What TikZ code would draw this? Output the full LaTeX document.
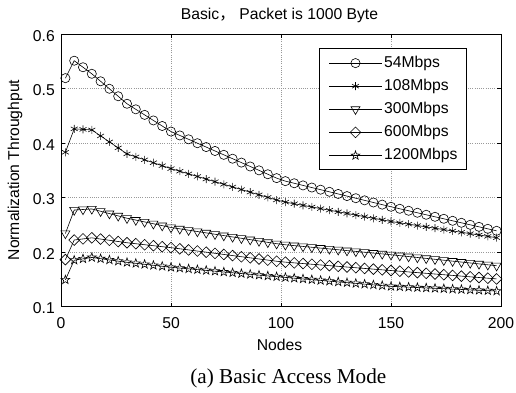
\documentclass[tikz,border=0pt]{standalone}
\usepackage{fontspec}
\setmainfont{Liberation Sans}
\newfontfamily\capfont{Liberation Serif}
\newfontfamily\cjk{Noto Sans CJK SC}
\usepackage{tikz}
\usetikzlibrary{plotmarks}

\pgfdeclareplotmark{pentagram}{%
  \pgfpathmoveto{\pgfpointpolar{90}{\pgfplotmarksize}}%
  \pgfpathlineto{\pgfpointpolar{126}{0.4\pgfplotmarksize}}%
  \pgfpathlineto{\pgfpointpolar{162}{\pgfplotmarksize}}%
  \pgfpathlineto{\pgfpointpolar{198}{0.4\pgfplotmarksize}}%
  \pgfpathlineto{\pgfpointpolar{234}{\pgfplotmarksize}}%
  \pgfpathlineto{\pgfpointpolar{270}{0.4\pgfplotmarksize}}%
  \pgfpathlineto{\pgfpointpolar{306}{\pgfplotmarksize}}%
  \pgfpathlineto{\pgfpointpolar{342}{0.4\pgfplotmarksize}}%
  \pgfpathlineto{\pgfpointpolar{18}{\pgfplotmarksize}}%
  \pgfpathlineto{\pgfpointpolar{54}{0.4\pgfplotmarksize}}%
  \pgfpathclose
  \pgfusepathqstroke}

% piecewise linear throughput, knots at 2,6,14,30,50,100,150,200 nodes
\newcommand\knotcurve[8]{(\x<6) ? seg(\x,2,6,#1,#2) : ((\x<14) ? seg(\x,6,14,#2,#3) : ((\x<30) ? seg(\x,14,30,#3,#4) : ((\x<50) ? seg(\x,30,50,#4,#5) : ((\x<100) ? seg(\x,50,100,#5,#6) : ((\x<150) ? seg(\x,100,150,#6,#7) : seg(\x,150,200,#7,#8))))))}

\tikzset{
  declare function={seg(\t,\a,\b,\p,\q)=\p+(\q-\p)*(\t-\a)/(\b-\a);},
  txt/.style={font=\fontsize{15.7}{18}\selectfont,inner sep=0pt},
  gridline/.style={gray!80,line width=0.5pt,dash pattern=on 1pt off 1.2pt},
  curve/.style={black,line width=0.6pt},
  s54/.style={mark=o,mark size=4.6pt},
  s108/.style={mark=asterisk,mark size=4pt},
  s300/.style={mark=triangle,mark size=5.2pt,mark options={rotate=180}},
  s600/.style={mark=square,mark size=3.8pt,mark options={rotate=45}},
  s1200/.style={mark=pentagram,mark size=4.6pt},
}

\begin{document}
\begin{tikzpicture}[x=1pt,y=1pt]
\useasboundingbox (0,0) rectangle (516,392);

\node[txt] (title) at (279.5,377) {Basic{\cjk ，} Packet is 1000 Byte};
\node[txt,rotate=90] (ylab) at (15,222) {Normalization Throughput};
\node[txt] (xlab) at (279.5,47) {Nodes};
\node[font=\capfont\fontsize{21.2}{24}\selectfont,inner sep=0pt] (caption) at (288.3,13.7) {(a) Basic Access Mode};

\begin{scope}[shift={(61pt,31pt)},x=2.2pt,y=545pt]
\foreach \g in {50,100,150}
  \draw[gridline] (\g,0.1) -- (\g,0.6);
\foreach \v in {0.2,0.3,0.4,0.5}
  \draw[gridline] (0,\v) -- (200,\v);

\draw[curve,s54] plot[samples at={2,6,...,198}]
  (\x,{\knotcurve{.519}{.551}{.527}{.472}{.421}{.332}{.283}{.237}});
\draw[curve,s108] plot[samples at={2,6,...,198}]
  (\x,{\knotcurve{.383}{.426}{.424}{.380}{.353}{.293}{.256}{.225}});
\draw[curve,s300] plot[samples at={2,6,...,198}]
  (\x,{\knotcurve{.234}{.277}{.279}{.262}{.245}{.214}{.195}{.174}});
\draw[curve,s600] plot[samples at={2,6,...,198}]
  (\x,{\knotcurve{.186}{.222}{.226}{.217}{.208}{.182}{.166}{.150}});
\draw[curve,s1200] plot[samples at={2,6,...,198}]
  (\x,{\knotcurve{.149}{.185}{.190}{.181}{.172}{.154}{.137}{.128}});

\draw[line width=0.8pt] (0,0.1) rectangle (200,0.6);
\foreach \g in {0,50,...,200} {
  \draw[line width=0.6pt] (\g,0.1) -- ++(0,4pt) (\g,0.6) -- ++(0,-4pt);
  \node[txt] (xt\g) at ([yshift=-16.8pt]\g,0.1) {\g};
}
\foreach \v in {0.1,0.2,0.3,0.4,0.5,0.6} {
  \draw[line width=0.6pt] (0,\v) -- ++(4pt,0) (200,\v) -- ++(-4pt,0);
  \node[txt,anchor=east] (yt\v) at ([xshift=-6pt,yshift=-2pt]0,\v) {\v};
}
\end{scope}

\draw[line width=0.7pt,fill=white] (319,223) rectangle (466,344);
\foreach \st/\lab [count=\i] in {s54/54Mbps,s108/108Mbps,s300/300Mbps,s600/600Mbps,s1200/1200Mbps} {
  \draw[curve] (329,352-23.1*\i) -- (382,352-23.1*\i);
  \path[curve,\st] plot coordinates {(355.5,352-23.1*\i)};
  \node[txt,anchor=west] (leg\i) at (384,352-23.1*\i) {\lab};
}
\end{tikzpicture}
\end{document}
